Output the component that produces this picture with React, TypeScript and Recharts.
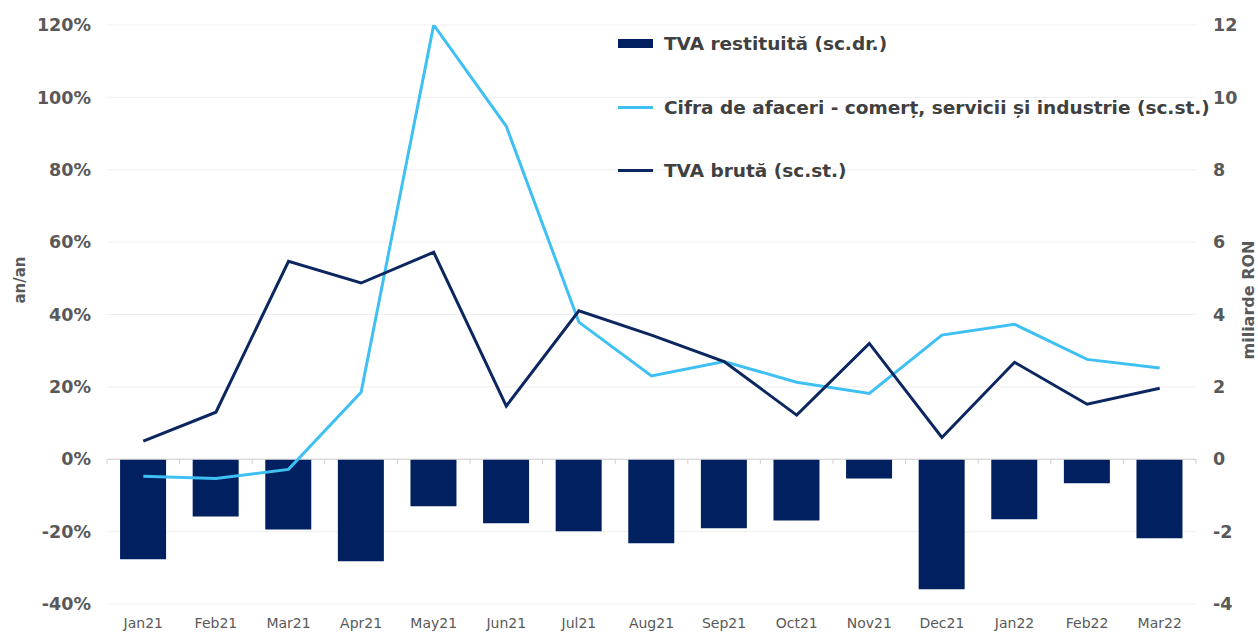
import React from "react";
import {
  ComposedChart,
  Bar,
  Line,
  XAxis,
  YAxis,
  CartesianGrid,
  ReferenceLine,
} from "recharts";

const months = [
  "Jan21", "Feb21", "Mar21", "Apr21", "May21", "Jun21", "Jul21", "Aug21",
  "Sep21", "Oct21", "Nov21", "Dec21", "Jan22", "Feb22", "Mar22",
];

// TVA restituita, miliarde RON (right axis)
const tvaRestituita = [
  -2.76, -1.58, -1.94, -2.82, -1.3, -1.77, -1.99, -2.32, -1.91, -1.69, -0.53,
  -3.59, -1.66, -0.66, -2.18,
];

// Cifra de afaceri, % an/an (left axis)
const cifraAfaceri = [
  -4.7, -5.3, -2.8, 18.5, 120, 92, 37.9, 23, 27, 21.3, 18.2, 34.3, 37.3, 27.6, 25.2,
];

// TVA bruta, % an/an (left axis)
const tvaBruta = [
  5, 13, 54.7, 48.7, 57.2, 14.7, 41, 34.3, 27, 12.2, 32, 6, 26.8, 15.2, 19.6,
];

const leftTicks = [-40, -20, 0, 20, 40, 60, 80, 100, 120];
const rightTicks = [-4, -2, 0, 2, 4, 6, 8, 10, 12];

const data = months.map((m, i) => ({
  month: m,
  restituita: tvaRestituita[i],
  cifra: cifraAfaceri[i],
  bruta: tvaBruta[i],
}));

const NAVY = "#002060";
const DARK = "#0c2660";
const LIGHT = "#3fc0f3";
const GRAY = "#595959";
const FONT = "'DejaVu Sans', Verdana, sans-serif";

const legendItems = [
  { label: "TVA restituită (sc.dr.)", color: NAVY, bar: true },
  { label: "Cifra de afaceri - comerț, servicii și industrie (sc.st.)", color: LIGHT, bar: false },
  { label: "TVA brută (sc.st.)", color: DARK, bar: false },
];

const LegendBox = () => (
  <div style={{ fontFamily: FONT }}>
    {legendItems.map((it) => (
      <div
        key={it.label}
        style={{ display: "flex", alignItems: "center", height: 63.5 }}
      >
        <div
          style={{
            width: 35,
            height: it.bar ? 9 : 3,
            background: it.color,
            marginRight: 11,
          }}
        />
        <span style={{ fontSize: 18.5, fontWeight: "bold", color: "#404040", whiteSpace: "nowrap" }}>
          {it.label}
        </span>
      </div>
    ))}
  </div>
);

const ZeroAxis = (props: any) => {
  const { x1, x2, y1 } = props;
  const n = months.length;
  const step = (x2 - x1) / n;
  const marks = [];
  for (let i = 0; i <= n; i++) {
    const x = x1 + i * step;
    marks.push(
      <line key={i} x1={x} x2={x} y1={y1} y2={y1 + 5} stroke="#d0d0d0" strokeWidth={1} />
    );
  }
  return (
    <g>
      <line x1={x1} x2={x2} y1={y1} y2={y1} stroke="#d0d0d0" strokeWidth={1} />
      {marks}
    </g>
  );
};

export default function App() {
  return (
    <div style={{ position: "absolute", left: 0, top: 0, width: 1258, height: 637, background: "#fff" }}>
      <ComposedChart
        width={1258}
        height={637}
        data={data}
        margin={{ top: 25, right: 0, bottom: 0, left: 0 }}
        barCategoryGap="18%"
      >
        <CartesianGrid vertical={false} stroke="#efefef" strokeWidth={1} yAxisId="left" />
        <XAxis
          dataKey="month"
          axisLine={false}
          tickLine={false}
          tickSize={0}
          tickMargin={14}
          height={33}
          interval={0}
          tick={{ fill: GRAY, fontSize: 14, fontFamily: FONT }}
        />
        <YAxis
          yAxisId="left"
          domain={[-40, 120]}
          ticks={leftTicks}
          allowDataOverflow
          axisLine={false}
          tickLine={false}
          tickSize={0}
          tickMargin={16}
          width={107}
          tickFormatter={(v) => `${v}%`}
          tick={{ fill: GRAY, fontSize: 17.5, fontWeight: "bold", fontFamily: FONT }}
        />
        <YAxis
          yAxisId="right"
          orientation="right"
          domain={[-4, 12]}
          ticks={rightTicks}
          allowDataOverflow
          axisLine={false}
          tickLine={false}
          tickSize={0}
          tickMargin={17}
          width={62}
          tick={{ fill: GRAY, fontSize: 17.5, fontWeight: "bold", fontFamily: FONT }}
        />
        <Bar
          yAxisId="right"
          dataKey="restituita"
          fill={NAVY}
          isAnimationActive={false}
        />
        <ReferenceLine yAxisId="left" y={0} shape={ZeroAxis} />
        <Line
          yAxisId="left"
          dataKey="cifra"
          stroke={LIGHT}
          strokeWidth={3}
          dot={false}
          isAnimationActive={false}
        />
        <Line
          yAxisId="left"
          dataKey="bruta"
          stroke={DARK}
          strokeWidth={3}
          dot={false}
          isAnimationActive={false}
        />
      </ComposedChart>
      <div style={{ position: "absolute", left: 618, top: 12 }}>
        <LegendBox />
      </div>
      <div
        style={{
          position: "absolute",
          left: 20,
          top: 280,
          transform: "translate(-50%, -50%) rotate(-90deg)",
          fontFamily: FONT,
          fontSize: 15,
          fontWeight: "bold",
          color: GRAY,
          whiteSpace: "nowrap",
        }}
      >
        an/an
      </div>
      <div
        style={{
          position: "absolute",
          left: 1248,
          top: 300,
          transform: "translate(-50%, -50%) rotate(-90deg)",
          fontFamily: FONT,
          fontSize: 16,
          fontWeight: "bold",
          color: GRAY,
          whiteSpace: "nowrap",
        }}
      >
        miliarde RON
      </div>
    </div>
  );
}
